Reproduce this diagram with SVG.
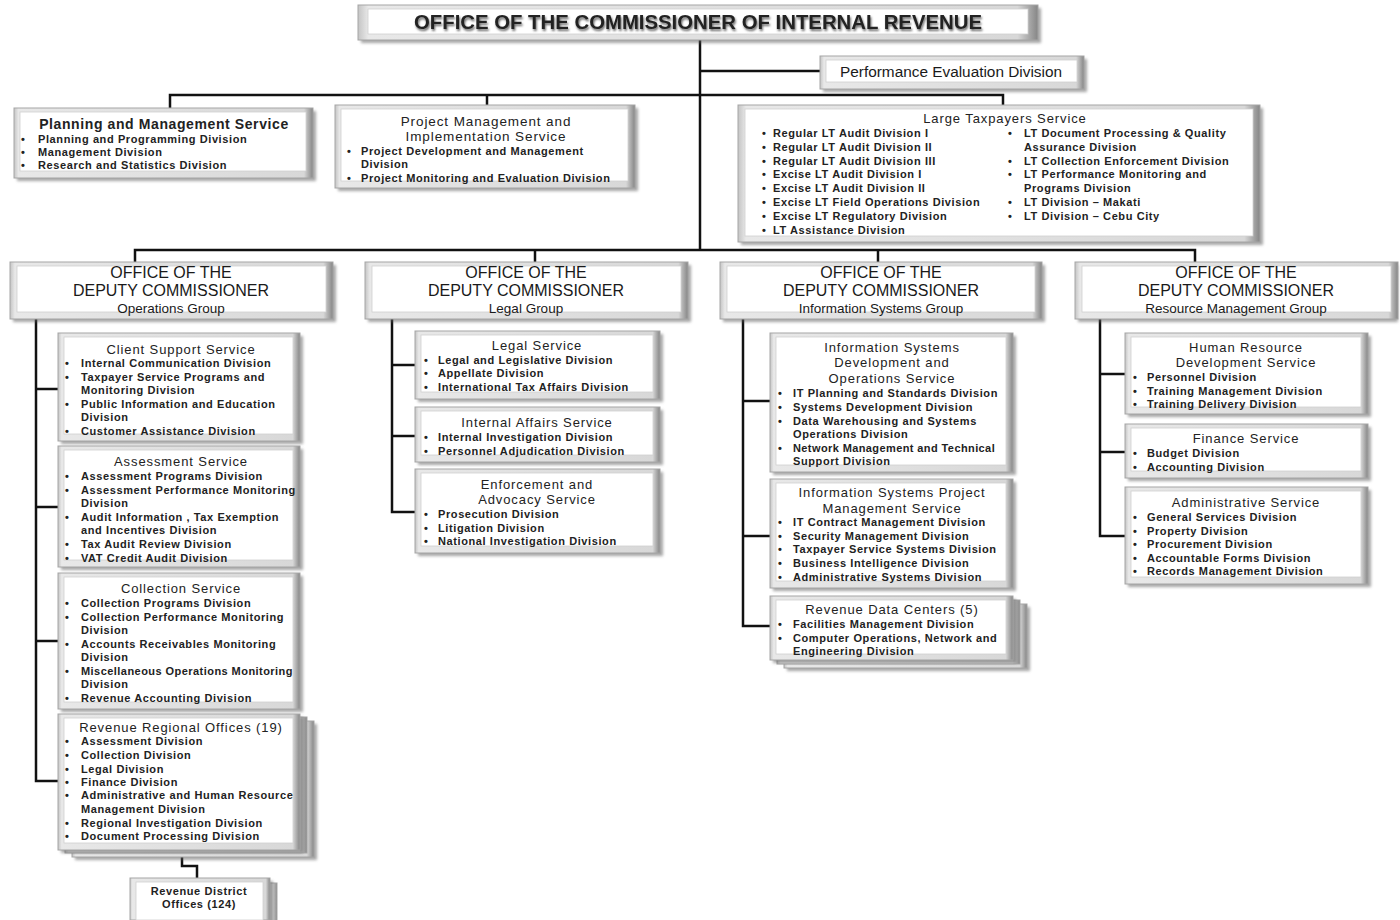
<svg xmlns="http://www.w3.org/2000/svg" width="1400" height="920" viewBox="0 0 1400 920">
<defs>
<linearGradient id="bev" x1="0" y1="0" x2="1" y2="0">
<stop offset="0" stop-color="#c4c4c4"/>
<stop offset="0.015" stop-color="#e8e8e8"/>
<stop offset="0.97" stop-color="#d8d8d8"/>
<stop offset="1" stop-color="#858585"/>
</linearGradient>
<filter id="blur" x="-5%" y="-10%" width="110%" height="130%"><feGaussianBlur stdDeviation="1.6"/></filter>
<filter id="tsh" x="-2%" y="-20%" width="104%" height="150%"><feDropShadow dx="1" dy="2" stdDeviation="1.2" flood-color="#444" flood-opacity="0.8"/></filter>
</defs>
<style>
.fr{fill:url(#bev);stroke:#a5a5a5;stroke-width:1}
.in{fill:#fff;stroke:#d0d0d0;stroke-width:0.8}
.sh{fill:#5e5e5e;opacity:0.55;filter:url(#blur)}
.ln{stroke:#111;stroke-width:2.5;fill:none}
.t{font-family:"Liberation Sans",Arial,sans-serif;font-size:13px;fill:#222;text-anchor:middle;letter-spacing:0.9px}
.i{font-family:"Liberation Sans",Arial,sans-serif;font-size:11px;font-weight:bold;fill:#222;letter-spacing:0.6px}
.d{font-family:"Liberation Sans",Arial,sans-serif;font-size:16px;fill:#1a1a1a;text-anchor:middle}
.g{font-family:"Liberation Sans",Arial,sans-serif;font-size:13.5px;fill:#1a1a1a;text-anchor:middle}
</style>
<rect width="1400" height="920" fill="#fff"/>

<g id="connectors">
<path class="ln" d="M700 40 V250"/>
<path class="ln" d="M700 71 H820"/>
<path class="ln" d="M170 108 V95 H1003 V105"/>
<path class="ln" d="M487 95 V105"/>
<path class="ln" d="M135 262 V250 H1195 V262"/>
<path class="ln" d="M535 250 V262"/>
<path class="ln" d="M878 250 V262"/>
<path class="ln" d="M36 318 V781 H60"/>
<path class="ln" d="M36 389 H60 M36 507 H60 M36 641 H60"/>
<path class="ln" d="M392 318 V512 H417 M392 365 H417 M392 436 H417"/>
<path class="ln" d="M743 318 V626 H772 M743 401 H772 M743 536 H772"/>
<path class="ln" d="M1100 318 V536 H1127 M1100 374 H1127 M1100 452 H1127"/>
<path class="ln" d="M182 851 V866 H197 V878"/>
</g>

<g id="commissioner">
<rect class="sh" x="361" y="8" width="680" height="35"/>
<rect class="fr" x="358" y="5" width="680" height="35"/>
<rect class="in" x="368" y="9" width="660" height="25"/>
<text x="698" y="29" font-family="Liberation Sans,Arial,sans-serif" font-size="21" font-weight="bold" fill="#222" text-anchor="middle" textLength="568" lengthAdjust="spacingAndGlyphs" filter="url(#tsh)">OFFICE OF THE COMMISSIONER OF INTERNAL REVENUE</text>
</g>

<g id="performance-evaluation">
<rect class="sh" x="823" y="59" width="264" height="33"/>
<rect class="fr" x="820" y="56" width="264" height="33"/>
<rect class="in" x="826" y="60" width="251" height="22"/>
<text x="951" y="77" font-family="Liberation Sans,Arial,sans-serif" font-size="14" fill="#1a1a1a" text-anchor="middle" textLength="222" lengthAdjust="spacingAndGlyphs">Performance Evaluation Division</text>
</g>

<g id="planning-management">
<rect class="sh" x="17" y="111" width="299" height="70"/>
<rect class="fr" x="14" y="108" width="299" height="70"/>
<rect class="in" x="20" y="112" width="286" height="59"/>
<text x="164" y="129" font-family="Liberation Sans,Arial,sans-serif" font-size="14" font-weight="bold" fill="#222" text-anchor="middle" letter-spacing="0.6">Planning and Management Service</text>
<text class="i" y="143"><tspan x="21">•</tspan><tspan x="38">Planning and Programming Division</tspan></text>
<text class="i" y="156"><tspan x="21">•</tspan><tspan x="38">Management Division</tspan></text>
<text class="i" y="169"><tspan x="21">•</tspan><tspan x="38">Research and Statistics Division</tspan></text>
</g>

<g id="project-management">
<rect class="sh" x="338" y="108" width="300" height="83"/>
<rect class="fr" x="335" y="105" width="300" height="83"/>
<rect class="in" x="341" y="109" width="287" height="72"/>
<text class="t" x="486" y="126" style="font-size:13.5px">Project Management and</text>
<text class="t" x="486" y="141" style="font-size:13.5px">Implementation Service</text>
<text class="i" y="155"><tspan x="347">•</tspan><tspan x="361">Project Development and Management</tspan></text>
<text class="i" x="361" y="168">Division</text>
<text class="i" y="182"><tspan x="347">•</tspan><tspan x="361">Project Monitoring and Evaluation Division</tspan></text>
</g>

<g id="large-taxpayers">
<rect class="sh" x="741" y="108" width="522" height="137"/>
<rect class="fr" x="738" y="105" width="522" height="137"/>
<rect class="in" x="745" y="109" width="508" height="127"/>
<text class="t" x="1005" y="123">Large Taxpayers Service</text>
<text class="i" y="137"><tspan x="762">•</tspan><tspan x="773">Regular LT Audit Division I</tspan></text>
<text class="i" y="151"><tspan x="762">•</tspan><tspan x="773">Regular LT Audit Division II</tspan></text>
<text class="i" y="165"><tspan x="762">•</tspan><tspan x="773">Regular LT Audit Division III</tspan></text>
<text class="i" y="178"><tspan x="762">•</tspan><tspan x="773">Excise LT Audit Division I</tspan></text>
<text class="i" y="192"><tspan x="762">•</tspan><tspan x="773">Excise LT Audit Division II</tspan></text>
<text class="i" y="206"><tspan x="762">•</tspan><tspan x="773">Excise LT Field Operations Division</tspan></text>
<text class="i" y="220"><tspan x="762">•</tspan><tspan x="773">Excise LT Regulatory Division</tspan></text>
<text class="i" y="234"><tspan x="762">•</tspan><tspan x="773">LT Assistance Division</tspan></text>
<text class="i" y="137"><tspan x="1008">•</tspan><tspan x="1024">LT Document Processing &amp; Quality</tspan></text>
<text class="i" x="1024" y="151">Assurance Division</text>
<text class="i" y="165"><tspan x="1008">•</tspan><tspan x="1024">LT Collection Enforcement Division</tspan></text>
<text class="i" y="178"><tspan x="1008">•</tspan><tspan x="1024">LT Performance Monitoring and</tspan></text>
<text class="i" x="1024" y="192">Programs Division</text>
<text class="i" y="206"><tspan x="1008">•</tspan><tspan x="1024">LT Division – Makati</tspan></text>
<text class="i" y="220"><tspan x="1008">•</tspan><tspan x="1024">LT Division – Cebu City</tspan></text>
</g>

<g id="dc-operations">
<rect class="sh" x="13" y="265" width="323" height="57"/>
<rect class="fr" x="10" y="262" width="323" height="57"/>
<rect class="in" x="17" y="266" width="309" height="46"/>
<text class="d" x="171" y="278">OFFICE OF THE</text>
<text class="d" x="171" y="296">DEPUTY COMMISSIONER</text>
<text class="g" x="171" y="313">Operations Group</text>
</g>
<g id="dc-legal">
<rect class="sh" x="368" y="265" width="323" height="57"/>
<rect class="fr" x="365" y="262" width="323" height="57"/>
<rect class="in" x="372" y="266" width="309" height="46"/>
<text class="d" x="526" y="278">OFFICE OF THE</text>
<text class="d" x="526" y="296">DEPUTY COMMISSIONER</text>
<text class="g" x="526" y="313">Legal Group</text>
</g>
<g id="dc-information-systems">
<rect class="sh" x="723" y="265" width="322" height="57"/>
<rect class="fr" x="720" y="262" width="322" height="57"/>
<rect class="in" x="727" y="266" width="308" height="46"/>
<text class="d" x="881" y="278">OFFICE OF THE</text>
<text class="d" x="881" y="296">DEPUTY COMMISSIONER</text>
<text class="g" x="881" y="313">Information Systems Group</text>
</g>
<g id="dc-resource-management">
<rect class="sh" x="1078" y="265" width="320" height="57"/>
<rect class="fr" x="1075" y="262" width="323" height="57"/>
<rect class="in" x="1082" y="266" width="309" height="46"/>
<text class="d" x="1236" y="278">OFFICE OF THE</text>
<text class="d" x="1236" y="296">DEPUTY COMMISSIONER</text>
<text class="g" x="1236" y="313">Resource Management Group</text>
</g>

<g id="client-support">
<rect class="sh" x="61" y="336" width="242" height="108"/>
<rect class="fr" x="58" y="333" width="242" height="108"/>
<rect class="in" x="64" y="337" width="229" height="97"/>
<text class="t" x="181" y="354">Client Support Service</text>
<text class="i" y="367"><tspan x="65">•</tspan><tspan x="81">Internal Communication Division</tspan></text>
<text class="i" y="381"><tspan x="65">•</tspan><tspan x="81">Taxpayer Service Programs and</tspan></text>
<text class="i" x="81" y="394">Monitoring Division</text>
<text class="i" y="408"><tspan x="65">•</tspan><tspan x="81">Public Information and Education</tspan></text>
<text class="i" x="81" y="421">Division</text>
<text class="i" y="435"><tspan x="65">•</tspan><tspan x="81">Customer Assistance Division</tspan></text>
</g>

<g id="assessment">
<rect class="sh" x="61" y="449" width="242" height="121"/>
<rect class="fr" x="58" y="446" width="242" height="121"/>
<rect class="in" x="64" y="450" width="229" height="110"/>
<text class="t" x="181" y="466">Assessment Service</text>
<text class="i" y="480"><tspan x="65">•</tspan><tspan x="81">Assessment Programs Division</tspan></text>
<text class="i" y="494"><tspan x="65">•</tspan><tspan x="81">Assessment Performance Monitoring</tspan></text>
<text class="i" x="81" y="507">Division</text>
<text class="i" y="521"><tspan x="65">•</tspan><tspan x="81">Audit Information , Tax Exemption</tspan></text>
<text class="i" x="81" y="534">and Incentives Division</text>
<text class="i" y="548"><tspan x="65">•</tspan><tspan x="81">Tax Audit Review Division</tspan></text>
<text class="i" y="562"><tspan x="65">•</tspan><tspan x="81">VAT Credit Audit Division</tspan></text>
</g>

<g id="collection">
<rect class="sh" x="61" y="576" width="242" height="136"/>
<rect class="fr" x="58" y="573" width="242" height="136"/>
<rect class="in" x="64" y="577" width="229" height="125"/>
<text class="t" x="181" y="593">Collection Service</text>
<text class="i" y="607"><tspan x="65">•</tspan><tspan x="81">Collection Programs Division</tspan></text>
<text class="i" y="621"><tspan x="65">•</tspan><tspan x="81">Collection Performance Monitoring</tspan></text>
<text class="i" x="81" y="634">Division</text>
<text class="i" y="648"><tspan x="65">•</tspan><tspan x="81">Accounts Receivables Monitoring</tspan></text>
<text class="i" x="81" y="661">Division</text>
<text class="i" y="675"><tspan x="65">•</tspan><tspan x="81" letter-spacing="0.45">Miscellaneous Operations Monitoring</tspan></text>
<text class="i" x="81" y="688">Division</text>
<text class="i" y="702"><tspan x="65">•</tspan><tspan x="81">Revenue Accounting Division</tspan></text>
</g>

<g id="revenue-regional-offices">
<rect class="sh" x="75" y="724" width="242" height="136"/>
<rect class="fr" x="72" y="721" width="242" height="136"/>
<rect class="fr" x="65" y="717" width="242" height="136"/>
<rect class="sh" x="61" y="717" width="242" height="136"/>
<rect class="fr" x="58" y="714" width="242" height="136"/>
<rect class="in" x="64" y="718" width="229" height="125"/>
<text class="t" x="181" y="732">Revenue Regional Offices (19)</text>
<text class="i" y="745"><tspan x="65">•</tspan><tspan x="81">Assessment Division</tspan></text>
<text class="i" y="759"><tspan x="65">•</tspan><tspan x="81">Collection Division</tspan></text>
<text class="i" y="773"><tspan x="65">•</tspan><tspan x="81">Legal Division</tspan></text>
<text class="i" y="786"><tspan x="65">•</tspan><tspan x="81">Finance Division</tspan></text>
<text class="i" y="799"><tspan x="65">•</tspan><tspan x="81">Administrative and Human Resource</tspan></text>
<text class="i" x="81" y="813">Management Division</text>
<text class="i" y="827"><tspan x="65">•</tspan><tspan x="81">Regional Investigation Division</tspan></text>
<text class="i" y="840"><tspan x="65">•</tspan><tspan x="81">Document Processing Division</tspan></text>
</g>

<g id="revenue-district-offices">
<rect class="fr" x="137" y="883" width="140" height="42"/>
<rect class="sh" x="133" y="881" width="140" height="42"/>
<rect class="fr" x="130" y="878" width="140" height="42"/>
<rect class="in" x="136" y="882" width="127" height="38"/>
<text class="i" x="199" y="895" text-anchor="middle">Revenue District</text>
<text class="i" x="199" y="908" text-anchor="middle">Offices (124)</text>
</g>

<g id="legal-service">
<rect class="sh" x="418" y="334" width="245" height="68"/>
<rect class="fr" x="415" y="331" width="245" height="68"/>
<rect class="in" x="421" y="335" width="232" height="57"/>
<text class="t" x="537" y="350">Legal Service</text>
<text class="i" y="364"><tspan x="424">•</tspan><tspan x="438">Legal and Legislative Division</tspan></text>
<text class="i" y="377"><tspan x="424">•</tspan><tspan x="438">Appellate Division</tspan></text>
<text class="i" y="391"><tspan x="424">•</tspan><tspan x="438">International Tax Affairs Division</tspan></text>
</g>

<g id="internal-affairs">
<rect class="sh" x="418" y="410" width="245" height="55"/>
<rect class="fr" x="415" y="407" width="245" height="55"/>
<rect class="in" x="421" y="411" width="232" height="44"/>
<text class="t" x="537" y="427">Internal Affairs Service</text>
<text class="i" y="441"><tspan x="424">•</tspan><tspan x="438">Internal Investigation Division</tspan></text>
<text class="i" y="455"><tspan x="424">•</tspan><tspan x="438">Personnel Adjudication Division</tspan></text>
</g>

<g id="enforcement-advocacy">
<rect class="sh" x="418" y="472" width="245" height="84"/>
<rect class="fr" x="415" y="469" width="245" height="84"/>
<rect class="in" x="421" y="473" width="232" height="73"/>
<text class="t" x="537" y="489">Enforcement and</text>
<text class="t" x="537" y="504">Advocacy Service</text>
<text class="i" y="518"><tspan x="424">•</tspan><tspan x="438">Prosecution Division</tspan></text>
<text class="i" y="532"><tspan x="424">•</tspan><tspan x="438">Litigation Division</tspan></text>
<text class="i" y="545"><tspan x="424">•</tspan><tspan x="438">National Investigation Division</tspan></text>
</g>

<g id="is-development-operations">
<rect class="sh" x="773" y="336" width="243" height="139"/>
<rect class="fr" x="770" y="333" width="243" height="139"/>
<rect class="in" x="776" y="337" width="230" height="128"/>
<text class="t" x="892" y="352">Information Systems</text>
<text class="t" x="892" y="367">Development and</text>
<text class="t" x="892" y="383">Operations Service</text>
<text class="i" y="397"><tspan x="778">•</tspan><tspan x="793">IT Planning and Standards Division</tspan></text>
<text class="i" y="411"><tspan x="778">•</tspan><tspan x="793">Systems Development Division</tspan></text>
<text class="i" y="425"><tspan x="778">•</tspan><tspan x="793">Data Warehousing and Systems</tspan></text>
<text class="i" x="793" y="438">Operations Division</text>
<text class="i" y="452"><tspan x="778">•</tspan><tspan x="793" letter-spacing="0.4">Network Management and Technical</tspan></text>
<text class="i" x="793" y="465">Support Division</text>
</g>

<g id="is-project-management">
<rect class="sh" x="773" y="482" width="243" height="109"/>
<rect class="fr" x="770" y="479" width="243" height="109"/>
<rect class="in" x="776" y="483" width="230" height="98"/>
<text class="t" x="892" y="497">Information Systems  Project</text>
<text class="t" x="892" y="513">Management Service</text>
<text class="i" y="526"><tspan x="778">•</tspan><tspan x="793">IT Contract Management Division</tspan></text>
<text class="i" y="540"><tspan x="778">•</tspan><tspan x="793">Security Management Division</tspan></text>
<text class="i" y="553"><tspan x="778">•</tspan><tspan x="793">Taxpayer Service Systems Division</tspan></text>
<text class="i" y="567"><tspan x="778">•</tspan><tspan x="793">Business Intelligence Division</tspan></text>
<text class="i" y="581"><tspan x="778">•</tspan><tspan x="793">Administrative Systems Division</tspan></text>
</g>

<g id="revenue-data-centers">
<rect class="sh" x="787" y="607" width="243" height="64"/>
<rect class="fr" x="784" y="604" width="243" height="64"/>
<rect class="fr" x="777" y="600" width="243" height="64"/>
<rect class="sh" x="773" y="599" width="243" height="64"/>
<rect class="fr" x="770" y="596" width="243" height="64"/>
<rect class="in" x="776" y="600" width="230" height="54"/>
<text class="t" x="892" y="614">Revenue Data Centers (5)</text>
<text class="i" y="628"><tspan x="778">•</tspan><tspan x="793">Facilities Management Division</tspan></text>
<text class="i" y="642"><tspan x="778">•</tspan><tspan x="793">Computer Operations, Network and</tspan></text>
<text class="i" x="793" y="655">Engineering Division</text>
</g>

<g id="hr-development">
<rect class="sh" x="1128" y="336" width="243" height="81"/>
<rect class="fr" x="1125" y="333" width="243" height="81"/>
<rect class="in" x="1131" y="337" width="230" height="70"/>
<text class="t" x="1246" y="352">Human Resource</text>
<text class="t" x="1246" y="367">Development Service</text>
<text class="i" y="381"><tspan x="1133">•</tspan><tspan x="1147">Personnel Division</tspan></text>
<text class="i" y="395"><tspan x="1133">•</tspan><tspan x="1147">Training Management Division</tspan></text>
<text class="i" y="408"><tspan x="1133">•</tspan><tspan x="1147">Training Delivery Division</tspan></text>
</g>

<g id="finance">
<rect class="sh" x="1128" y="427" width="243" height="54"/>
<rect class="fr" x="1125" y="424" width="243" height="54"/>
<rect class="in" x="1131" y="428" width="230" height="43"/>
<text class="t" x="1246" y="443">Finance Service</text>
<text class="i" y="457"><tspan x="1133">•</tspan><tspan x="1147">Budget Division</tspan></text>
<text class="i" y="471"><tspan x="1133">•</tspan><tspan x="1147">Accounting Division</tspan></text>
</g>

<g id="administrative">
<rect class="sh" x="1128" y="490" width="243" height="97"/>
<rect class="fr" x="1125" y="487" width="243" height="97"/>
<rect class="in" x="1131" y="491" width="230" height="86"/>
<text class="t" x="1246" y="507">Administrative Service</text>
<text class="i" y="521"><tspan x="1133">•</tspan><tspan x="1147">General Services Division</tspan></text>
<text class="i" y="535"><tspan x="1133">•</tspan><tspan x="1147">Property Division</tspan></text>
<text class="i" y="548"><tspan x="1133">•</tspan><tspan x="1147">Procurement Division</tspan></text>
<text class="i" y="562"><tspan x="1133">•</tspan><tspan x="1147">Accountable Forms Division</tspan></text>
<text class="i" y="575"><tspan x="1133">•</tspan><tspan x="1147">Records Management Division</tspan></text>
</g>
</svg>
